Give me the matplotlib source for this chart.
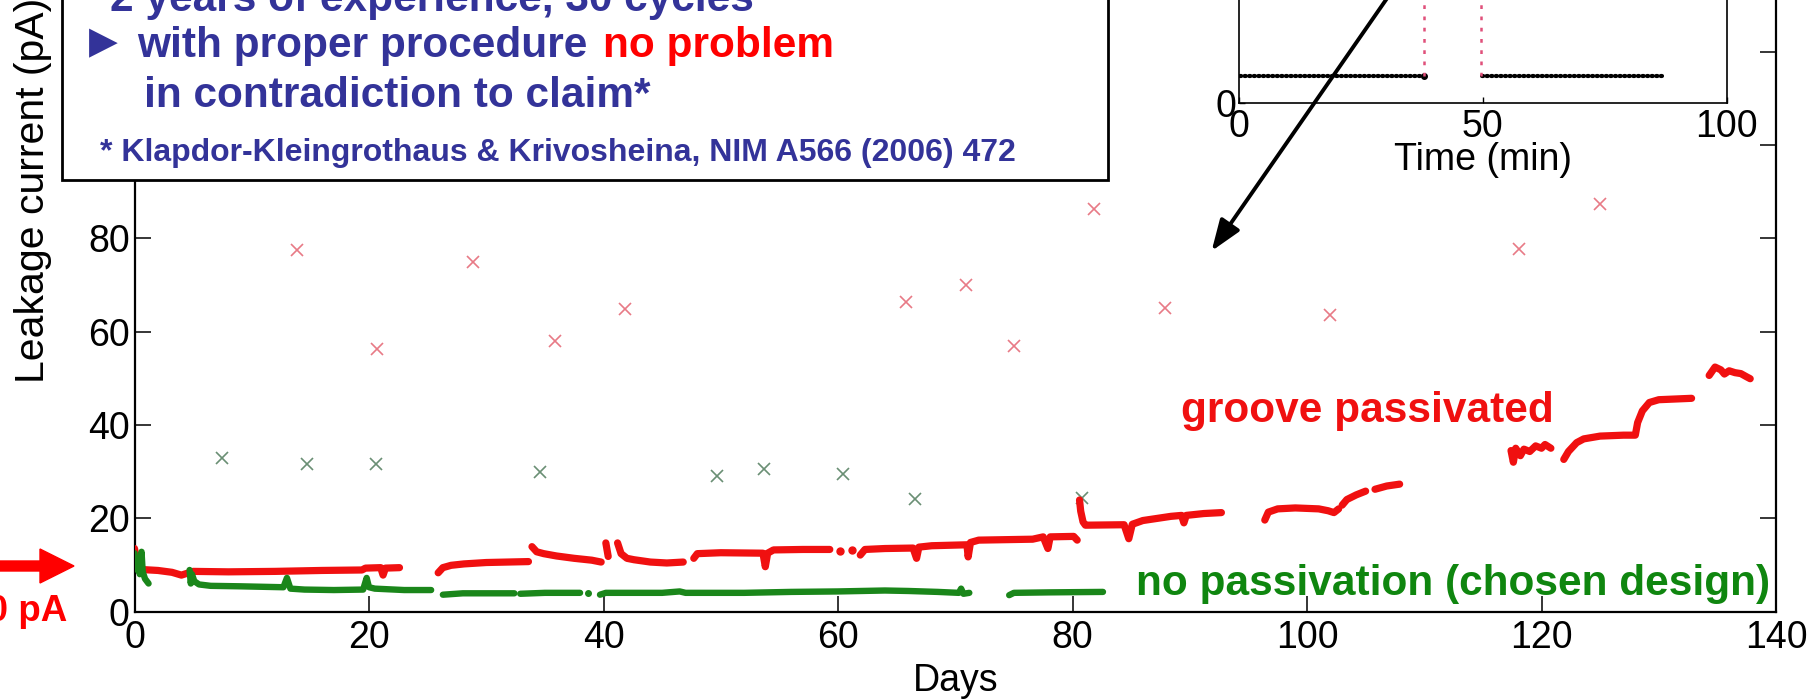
import matplotlib
matplotlib.use("Agg")
import matplotlib.pyplot as plt
from matplotlib.patches import Rectangle, FancyArrowPatch, FancyArrow
from matplotlib.transforms import Affine2D

W, H = 1819, 700
plt.rcParams['font.family'] = ['Liberation Sans', 'DejaVu Sans']

# ---------------- data ----------------
# leakage current of the groove-passivated detector: (day, pA) runs
groove_segments = [
    [(0.0, 13.5), (0.15, 11.5), (0.3, 9.5), (0.6, 9.0), (2.0, 8.8), (3.2, 8.4),
     (4.0, 7.8), (4.5, 8.2), (5.0, 8.6), (8.0, 8.5), (12.0, 8.6), (16.0, 8.8),
     (19.4, 8.9), (19.7, 9.3), (21.0, 9.4), (21.2, 7.8), (21.4, 9.3), (22.6, 9.4)],
    [(25.9, 8.3), (26.3, 9.4), (27.0, 9.9), (28.1, 10.2), (30.0, 10.5), (33.6, 10.7)],
    [(33.9, 13.9), (34.3, 12.8), (34.9, 12.4), (36.0, 11.9), (37.5, 11.4),
     (39.0, 11.0), (39.8, 10.6)],
    [(40.2, 14.7), (40.4, 11.8)],
    [(41.2, 14.7), (41.5, 12.4), (42.0, 11.4), (42.6, 11.1), (44.0, 10.6),
     (45.4, 10.4), (46.8, 10.6)],
    [(47.7, 11.4), (48.0, 12.4), (50.0, 12.6), (53.6, 12.5), (53.8, 9.6),
     (54.0, 12.5), (54.5, 13.2), (57.0, 13.3), (59.3, 13.3)],
    [(61.9, 12.1), (62.3, 13.3), (64.0, 13.5), (66.4, 13.6), (66.7, 11.4),
     (66.9, 13.8), (68.0, 14.1), (71.0, 14.3), (71.1, 11.7), (71.3, 14.8),
     (72.0, 15.3), (76.6, 15.5), (77.5, 16.0), (77.9, 13.5), (78.1, 16.0),
     (80.1, 16.1), (80.4, 15.3)],
    [(80.6, 23.9), (80.7, 21.5), (80.9, 19.2), (81.1, 18.5), (84.4, 18.6),
     (84.8, 15.6), (85.1, 18.7), (86.0, 19.5), (88.4, 20.4), (89.3, 20.6),
     (89.5, 19.0), (89.7, 20.6), (91.2, 21.0), (92.7, 21.2)],
    [(96.4, 19.6), (96.7, 21.3), (97.5, 22.0), (99.0, 22.2), (101.0, 22.0),
     (101.8, 21.6), (102.3, 21.2), (102.7, 22.0)],
    [(103.0, 22.8), (103.4, 24.0), (104.2, 25.0), (105.0, 25.8)],
    [(105.8, 26.2), (106.8, 26.9), (107.9, 27.3)],
    [(117.4, 34.5), (117.6, 32.0), (117.8, 35.0), (118.2, 33.4), (118.5, 34.8),
     (119.0, 34.3), (119.5, 35.5), (120.0, 35.0), (120.3, 35.8), (120.8, 35.0)],
    [(121.9, 32.6), (122.3, 34.3), (123.0, 36.2), (123.6, 37.0), (125.0, 37.6),
     (127.0, 37.8), (128.0, 37.8), (128.2, 40.5), (128.6, 43.0), (129.2, 44.8),
     (130.0, 45.4), (132.8, 45.7)],
    [(134.3, 50.6), (134.8, 52.4), (135.3, 51.8), (135.6, 50.9), (136.0, 51.6),
     (136.5, 51.2), (137.0, 51.0), (137.5, 50.3), (137.8, 49.9)],
]
groove_dots_day = [60.2, 61.2]
groove_dots_pA = [13.0, 13.1]

# leakage current of the detector without passivation
nopass_segments = [
    [(0.0, 12.5), (0.15, 9.0), (0.3, 10.8), (0.45, 8.0), (0.6, 12.8), (0.7, 8.5),
     (0.9, 7.0), (1.2, 6.0)],
    [(4.7, 8.9), (4.8, 6.0), (4.9, 8.0), (5.1, 6.5), (5.5, 5.8), (6.5, 5.5),
     (9.0, 5.4), (12.7, 5.2), (13.0, 7.2), (13.3, 4.9), (14.5, 4.7), (17.0, 4.6),
     (19.5, 4.7), (19.8, 7.2), (20.0, 5.2), (20.5, 4.9), (23.0, 4.6), (25.3, 4.6)],
    [(26.3, 3.6), (28.0, 3.9), (32.4, 3.9)],
    [(32.9, 3.8), (35.0, 4.0), (38.0, 4.0)],
    [(39.7, 3.6), (40.2, 4.0), (45.0, 4.0), (46.5, 4.3), (47.0, 4.0), (52.0, 4.0),
     (56.0, 4.2), (60.0, 4.3), (64.0, 4.5), (66.0, 4.4), (68.5, 4.2), (70.3, 4.0),
     (70.5, 4.9), (70.7, 3.8), (71.2, 4.0)],
    [(74.6, 3.5), (75.0, 4.0), (78.0, 4.1), (82.6, 4.2)],
]
nopass_dots_day = [38.7]
nopass_dots_pA = [4.0]

# current readings taken during warm-up cycles
groove_cross_day = [13.85, 20.7, 28.9, 35.9, 41.8, 65.8, 70.9, 75.0, 81.85,
                    87.9, 102.0, 118.05, 124.95]
groove_cross_pA = [77.5, 56.2, 74.9, 58.0, 64.8, 66.3, 70.0, 56.9, 86.2,
                   65.0, 63.5, 77.8, 87.3]
nopass_cross_day = [7.5, 14.7, 20.6, 34.6, 49.7, 53.7, 60.45, 66.6, 80.8]
nopass_cross_pA = [33.0, 31.7, 31.7, 29.8, 29.1, 30.6, 29.4, 24.2, 24.4]

day_ticks = [0, 20, 40, 60, 80, 100, 120, 140]
pA_ticks = [0, 20, 40, 60, 80, 100, 120, 140]

# single warm-up cycle (minutes)
inset_before_min = [0.3, 38.0]
inset_after_min = [49.8, 87.3]
inset_level = [10, 10]
inset_jump_min = [38.0, 49.6]
inset_ticks = [0, 50, 100]

RED = '#f01010'
GREEN = '#1a861a'
BLUE = '#333399'
TICK_FS = 27

# pixel coordinates measured from the top-left corner
px = Affine2D().scale(1, -1).translate(0, H)

fig = plt.figure(figsize=(W / 100, H / 100), dpi=100)

# ---------------- main axes ----------------
ax_l, ax_r, ax_b, ppa = 134.5, 1776.0, 611.5, 4.665
ax = fig.add_axes([ax_l / W, 1 - ax_b / H, (ax_r - ax_l) / W, 140 * ppa / H])
ax.set_xlim(0, 140)
ax.set_ylim(0, 140)

for seg in groove_segments:
    d, v = zip(*seg)
    ax.plot(d, v, color=RED, lw=5.2, solid_capstyle='round',
            solid_joinstyle='round', zorder=3)
ax.plot(groove_dots_day, groove_dots_pA, 'o', color=RED, ms=5, zorder=3)
for seg in nopass_segments:
    d, v = zip(*seg)
    ax.plot(d, v, color=GREEN, lw=4.6, solid_capstyle='round',
            solid_joinstyle='round', zorder=3)
ax.plot(nopass_dots_day, nopass_dots_pA, 'o', color=GREEN, ms=4, zorder=3)

ax.plot(groove_cross_day, groove_cross_pA, 'x', color='#e87a86', ms=9, mew=1.2,
        zorder=2)
ax.plot(nopass_cross_day, nopass_cross_pA, 'x', color='#6a8f74', ms=9, mew=1.2,
        zorder=2)

ax.set_xticks(day_ticks)
ax.set_yticks(pA_ticks)
ax.tick_params(direction='in', length=11.5, width=1.1, top=True, right=True,
               labelsize=TICK_FS)
ax.tick_params(axis='x', pad=6)
ax.tick_params(axis='y', pad=3.5)
for s in ax.spines.values():
    s.set_linewidth(1.6)
ax.set_xlabel('Days', fontsize=TICK_FS, labelpad=5)

fig.text(33, 190, 'Leakage current (pA)', transform=px, rotation=90,
         ha='center', va='center', fontsize=29.5)

ax.text(1181, 421.7, 'groove passivated', transform=px, color=RED,
        fontsize=30.5, fontweight='bold', va='baseline', ha='left', zorder=5)
ax.text(1135.5, 595, 'no passivation (chosen design)', transform=px,
        color='#0f860f', fontsize=30.5, fontweight='bold', va='baseline',
        ha='left', zorder=5)

# ---------------- inset: one cycle ----------------
in_l, in_r, in_b, in_t = 1238.6, 1726.8, 103.3, -100.0
axi = fig.add_axes([in_l / W, 1 - in_b / H, (in_r - in_l) / W, (in_b - in_t) / H])
axi.set_zorder(2)
axi.set_xlim(0, 100)
axi.set_ylim(0, 75)
for t in (inset_before_min, inset_after_min):
    axi.plot(t, inset_level, color='k', lw=3.0, ls=(0, (0.3, 0.8)),
             dash_capstyle='round')
axi.plot([inset_before_min[-1]], [inset_level[0]], 'o', color='k', ms=4)
axi.vlines(inset_jump_min, inset_level[0], 75, colors='#e0507a',
           linestyles=(0, (1.5, 3)), lw=1.8)
axi.set_xticks(inset_ticks)
axi.set_yticks([0])
axi.tick_params(direction='in', length=4, width=1.0, labelsize=TICK_FS)
axi.tick_params(axis='x', pad=4)
axi.tick_params(axis='y', pad=1.5)
for s in axi.spines.values():
    s.set_linewidth(1.2)
axi.set_xlabel('Time (min)', fontsize=TICK_FS, labelpad=-2)

# arrow from the inset to the matching cycle
fig.add_artist(FancyArrowPatch((1427.5, -60), (1211.6, 251), transform=px,
                               arrowstyle='-|>,head_length=19,head_width=7',
                               mutation_scale=1, lw=2.8, color='k',
                               shrinkA=0, shrinkB=0, zorder=6))

# ---------------- text box ----------------
fig.add_artist(Rectangle((61.6, -20), 1108 - 61.6, 200, transform=px,
                         facecolor='white', edgecolor='black', lw=2, zorder=3))
box_kw = dict(transform=px, fontweight='bold', va='baseline', ha='left',
              zorder=4)
fig.text(110, 11.5, '2 years of experience, 30 cycles', color=BLUE,
         fontsize=30.5, **box_kw)
fig.text(103, 43, '\u25b6', transform=px, color=BLUE, fontsize=27,
         family='DejaVu Sans', ha='center', va='center', zorder=4)
fig.text(137, 57, 'with proper procedure', color=BLUE, fontsize=30.5, **box_kw)
fig.text(603, 57, 'no problem', color='#ff0000', fontsize=30.5, **box_kw)
fig.text(144, 107, 'in contradiction to claim*', color=BLUE, fontsize=30.5,
         **box_kw)
fig.text(100, 161, '* Klapdor-Kleingrothaus & Krivosheina, NIM A566 (2006) 472',
         color=BLUE, fontsize=23, **box_kw)

# ---------------- 10 pA marker ----------------
fig.add_artist(FancyArrow(-5, 566, 79, 0, width=10, head_width=34,
                          head_length=34, length_includes_head=True,
                          transform=px, color='#ff0000', zorder=5))
fig.text(67, 621, '10 pA', transform=px, color='#ff0000', fontsize=26.5,
         fontweight='bold', ha='right', va='baseline', zorder=5)

fig.savefig('out.png', dpi=100)
